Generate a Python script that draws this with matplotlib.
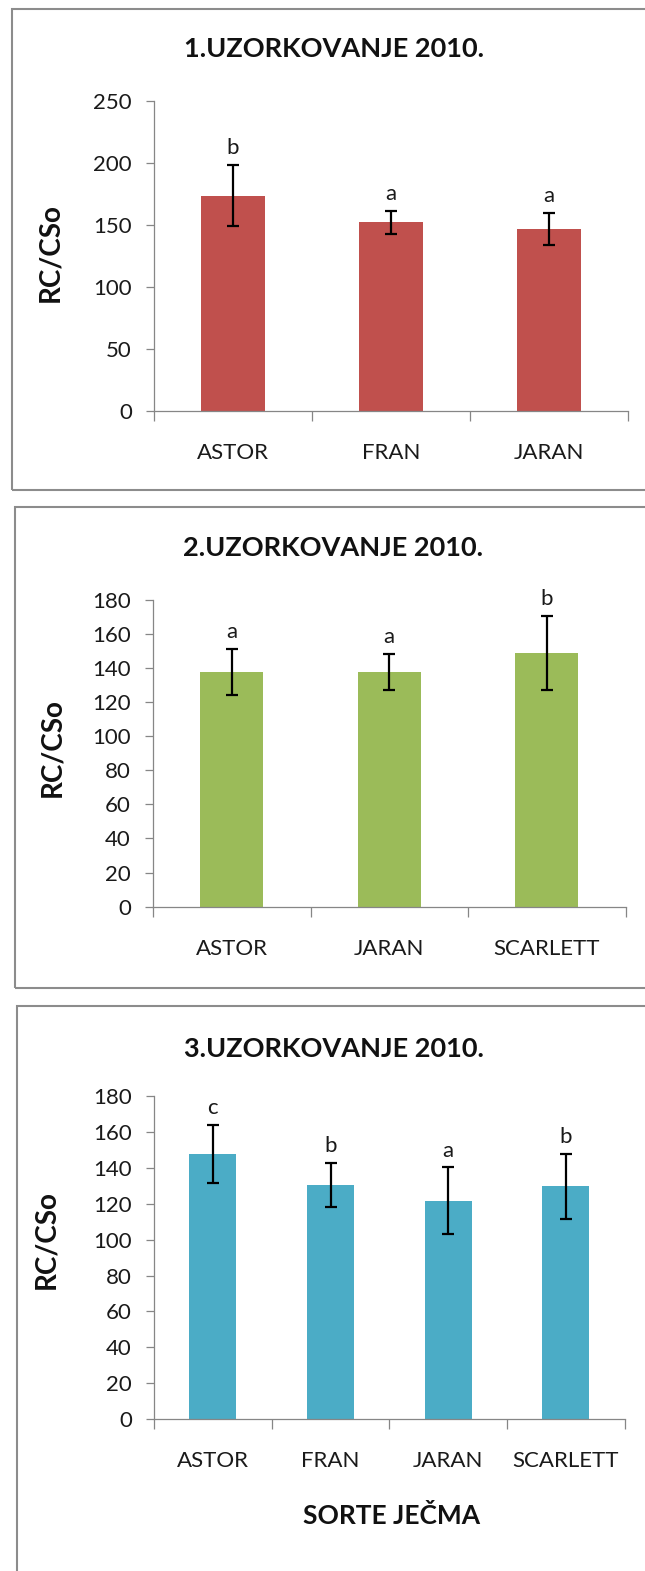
import matplotlib
matplotlib.use("Agg")
import matplotlib.pyplot as plt
from matplotlib.patches import Rectangle

plt.rcParams['font.family'] = ['Lato', 'DejaVu Sans']

# data
cats1 = ['ASTOR', 'FRAN', 'JARAN']
vals1 = [173.4, 151.9, 146.5]
err1 = [24.4, 9.4, 12.6]
let1 = ['b', 'a', 'a']

cats2 = ['ASTOR', 'JARAN', 'SCARLETT']
vals2 = [137.4, 137.5, 148.8]
err2 = [13.5, 10.5, 21.9]
let2 = ['a', 'a', 'b']

cats3 = ['ASTOR', 'FRAN', 'JARAN', 'SCARLETT']
vals3 = [147.9, 130.3, 121.7, 129.7]
err3 = [16.0, 12.3, 18.6, 18.1]
let3 = ['c', 'b', 'a', 'b']

titles = ['1.UZORKOVANJE 2010.', '2.UZORKOVANJE 2010.', '3.UZORKOVANJE 2010.']
colors = ['#C0504D', '#9BBB59', '#4BACC6']

W, H = 645, 1571
fig = plt.figure(figsize=(W / 100, H / 100), dpi=100)


def fx(x):
    return x / W


def fy(y):
    return 1 - y / H


def panel(box, area, title_xy, ylab_xy, cats, vals, errs, letters, color, ymax, ystep):
    # chart border
    bx0, by0, bx1, by1 = box
    fig.patches.append(Rectangle((fx(bx0), fy(by1)), (bx1 - bx0) / W, (by1 - by0) / H,
                                 transform=fig.transFigure, fill=False,
                                 edgecolor='#8c8c8c', linewidth=1.5))
    left, top, right, bottom = area
    ax = fig.add_axes([fx(left), fy(bottom), (right - left) / W, (bottom - top) / H])
    x = list(range(len(cats)))
    ax.bar(x, vals, width=0.4, color=color, zorder=2)
    ax.errorbar(x, vals, yerr=errs, fmt='none', ecolor='black',
                elinewidth=1.6, capsize=4.5, capthick=1.6, zorder=3)
    for i in x:
        ax.annotate(letters[i], (i, vals[i] + errs[i]), xytext=(0, 5),
                    textcoords='offset points', ha='center', va='bottom',
                    fontsize=16, color='#1a1a1a')
    ax.set_xlim(-0.5, len(cats) - 0.5)
    ax.set_ylim(0, ymax)
    ax.set_yticks(range(0, ymax + 1, ystep))
    ax.set_xticks(x)
    ax.set_xticklabels(cats)
    ax.set_xticks([i - 0.5 for i in range(len(cats) + 1)], minor=True)
    for s in ['top', 'right']:
        ax.spines[s].set_visible(False)
    for s in ['left', 'bottom']:
        ax.spines[s].set_color('#868686')
        ax.spines[s].set_linewidth(0.9)
    ax.tick_params(axis='y', length=6, width=0.9, color='#868686',
                   labelsize=16, pad=10, labelcolor='#1a1a1a')
    ax.tick_params(axis='x', which='major', length=0, labelsize=16, pad=23,
                   labelcolor='#1a1a1a')
    ax.tick_params(axis='x', which='minor', length=7, width=0.9, color='#868686')
    fig.text(fx(title_xy[0]), fy(title_xy[1]), title_xy[2], ha='center', va='center',
             fontsize=19.5, fontweight='bold', color='#111111')
    fig.text(fx(ylab_xy[0]), fy(ylab_xy[1]), 'RC/CSo', ha='center', va='center',
             rotation=90, fontsize=20, fontweight='bold', color='#111111')
    return ax


panel((11.5, 9, 670, 490), (154, 100.7, 628, 410.7), (334, 49, titles[0]), (50, 253),
      cats1, vals1, err1, let1, colors[0], 250, 50)
panel((14.5, 507, 670, 988), (153, 599.7, 625.5, 906.7), (333, 548, titles[1]), (52, 748),
      cats2, vals2, err2, let2, colors[1], 180, 20)
panel((16.5, 1006, 670, 1600), (154, 1096.3, 624.7, 1418.9), (334, 1049, titles[2]), (46, 1240),
      cats3, vals3, err3, let3, colors[2], 180, 20)

fig.text(fx(392), fy(1516), 'SORTE JEČMA', ha='center', va='center',
         fontsize=19, fontweight='bold', color='#111111')

fig.savefig('out.png', dpi=100)
